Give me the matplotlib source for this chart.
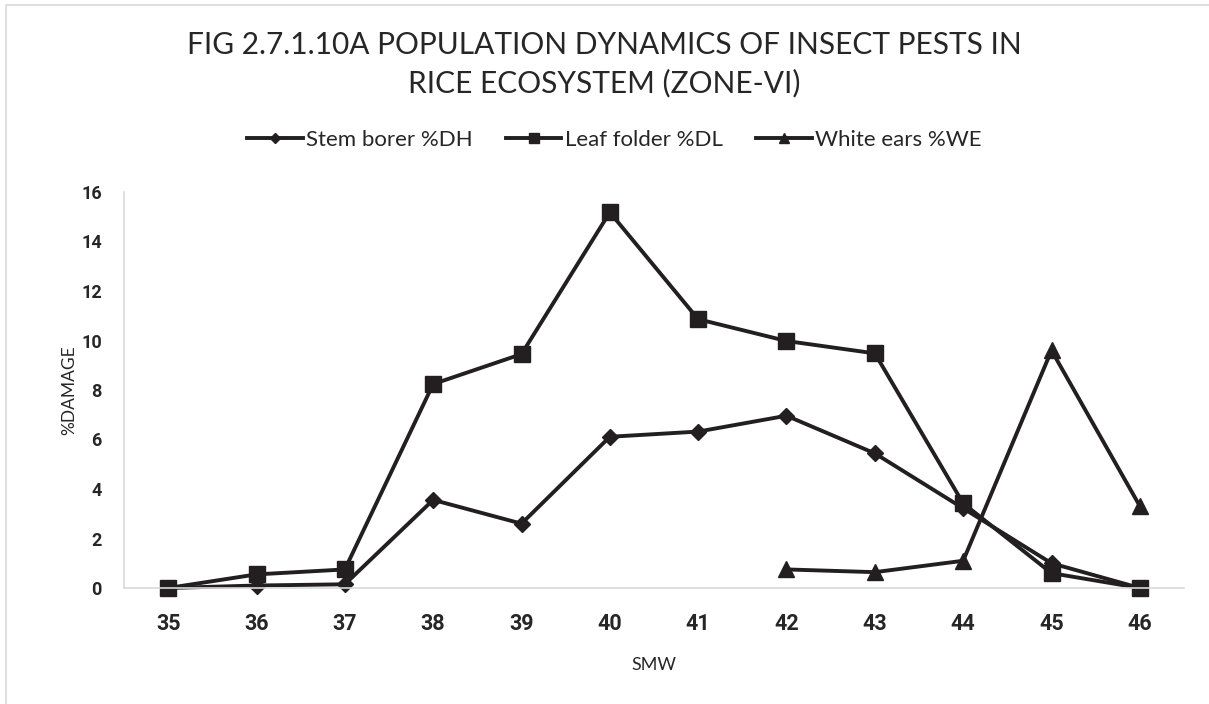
import numpy as np
import matplotlib
matplotlib.use("Agg")
import matplotlib.pyplot as plt
from matplotlib.patches import Rectangle

plt.rcParams["font.family"] = ["Lato", "DejaVu Sans"]

# Standard meteorological weeks and per-cent damage of each pest
weeks = ["35", "36", "37", "38", "39", "40", "41", "42", "43", "44", "45", "46"]
stem_borer_dh = [0.0, 0.1, 0.15, 3.56, 2.6, 6.11, 6.32, 6.96, 5.44, 3.22, 1.0, 0.0]
leaf_folder_dl = [0.0, 0.55, 0.75, 8.24, 9.45, 15.18, 10.86, 9.98, 9.48, 3.42, 0.6, 0.0]
white_ears_we = [np.nan] * 7 + [0.75, 0.64, 1.1, 9.6, 3.31]

series_names = ["Stem borer %DH", "Leaf folder %DL", "White ears %WE"]
title_lines = ["FIG 2.7.1.10A POPULATION DYNAMICS OF INSECT PESTS IN",
               "RICE ECOSYSTEM (ZONE-VI)"]
y_ticks = [0, 2, 4, 6, 8, 10, 12, 14, 16]

ink = "#231f20"
text_col = "#262626"
axis_col = "#d9d9d9"
bold_family = ["Roboto", "DejaVu Sans"]

fig = plt.figure(figsize=(12.09, 7.04), dpi=100)
fig.patch.set_facecolor("white")

# thin outer frame (left and top edges visible)
fig.add_artist(Rectangle((6 / 1209, -0.2), 1.3, 1.2 - 5 / 704,
                         transform=fig.transFigure, fill=False,
                         edgecolor=axis_col, linewidth=1.2))

ax = fig.add_axes([124 / 1209, 116 / 704, 1060 / 1209, 396 / 704])
x = np.arange(len(weeks))

line_kw = dict(color=ink, linewidth=2.8, markerfacecolor=ink,
               markeredgecolor=ink, markeredgewidth=1.0, clip_on=False)
ax.plot(x, stem_borer_dh, marker="D", markersize=8.5, label=series_names[0], **line_kw)
ax.plot(x, leaf_folder_dl, marker="s", markersize=11.5, label=series_names[1], **line_kw)
ax.plot(x, white_ears_we, marker="^", markersize=12, label=series_names[2], **line_kw)

ax.set_xlim(-0.5, len(weeks) - 0.5)
ax.set_ylim(0, 16)
ax.set_xticks(x)
ax.set_xticklabels(weeks, fontsize=15.5, fontweight="bold", color=text_col,
                   family=bold_family)
ax.set_yticks(y_ticks)
ax.set_yticklabels([str(v) for v in y_ticks], fontsize=13,
                   fontweight="bold", color=text_col, family=bold_family)
ax.tick_params(axis="both", length=0)
ax.tick_params(axis="x", pad=18)
ax.tick_params(axis="y", pad=16)

for side in ("top", "right"):
    ax.spines[side].set_visible(False)
for side in ("left", "bottom"):
    ax.spines[side].set_color(axis_col)
    ax.spines[side].set_linewidth(1.2)

ax.set_xlabel("SMW", fontsize=13, color=text_col, labelpad=16)
ax.set_ylabel("%DAMAGE", fontsize=12.5, color=text_col, labelpad=3)

# title, two centred lines
fig.text(0.5, 1 - 54 / 704, title_lines[0], ha="center", va="baseline",
         fontsize=21.5, color=text_col)
fig.text(0.5, 1 - 92 / 704, title_lines[1], ha="center", va="baseline",
         fontsize=21.5, color=text_col)

fig.legend(loc="center", bbox_to_anchor=(0.508, 1 - 140 / 704), ncol=3,
           frameon=False, fontsize=16, handlelength=2.5, handletextpad=0.15,
           columnspacing=1.5, markerscale=0.65, labelcolor=text_col)

fig.savefig("out.png", dpi=100, facecolor="white")
